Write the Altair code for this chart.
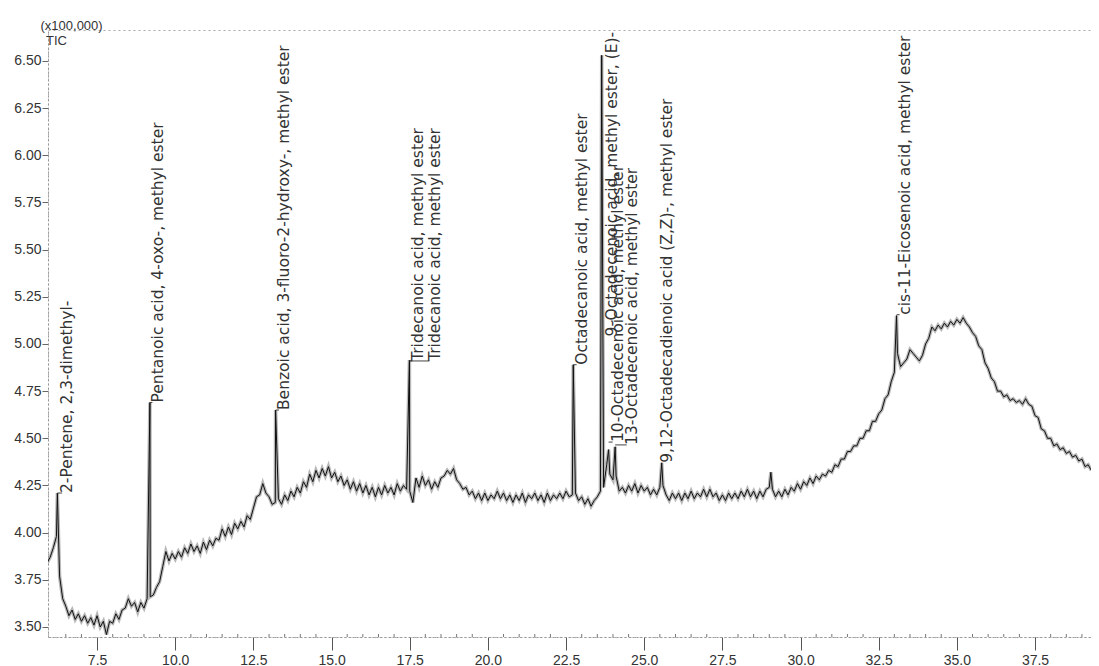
import altair as alt
import pandas as pd

# ---- TIC trace, every 0.1 min from 5.9 min (x100,000 counts)
trace_start = 5.9
trace_step = 0.1
tic_signal = [
    3.84,
    3.87, 3.92, 3.98, 3.77, 3.65, 3.61, 3.56, 3.59, 3.54, 3.57,   # 6.0
    3.53, 3.56, 3.52, 3.55, 3.51, 3.56, 3.50, 3.53, 3.46, 3.53,   # 7.0
    3.52, 3.57, 3.54, 3.59, 3.60, 3.65, 3.61, 3.63, 3.58, 3.63,   # 8.0
    3.60, 3.65, 3.66, 3.67, 3.71, 3.74, 3.82, 3.90, 3.85, 3.89,   # 9.0
    3.86, 3.90, 3.87, 3.92, 3.89, 3.94, 3.90, 3.93, 3.89, 3.95,   # 10.0
    3.91, 3.96, 3.93, 3.97, 3.96, 4.02, 3.98, 4.03, 3.99, 4.05,   # 11.0
    4.02, 4.06, 4.03, 4.09, 4.07, 4.13, 4.19, 4.20, 4.26, 4.21,   # 12.0
    4.19, 4.15, 4.16, 4.18, 4.15, 4.20, 4.17, 4.22, 4.19, 4.24,   # 13.0
    4.21, 4.27, 4.24, 4.31, 4.27, 4.33, 4.29, 4.34, 4.30, 4.35,   # 14.0
    4.29, 4.32, 4.27, 4.30, 4.25, 4.28, 4.23, 4.27, 4.22, 4.26,   # 15.0
    4.21, 4.25, 4.20, 4.24, 4.19, 4.24, 4.20, 4.25, 4.21, 4.24,   # 16.0
    4.20, 4.26, 4.22, 4.25, 4.23, 4.22, 4.16, 4.29, 4.24, 4.30,   # 17.0
    4.25, 4.28, 4.23, 4.27, 4.24, 4.29, 4.30, 4.33, 4.31, 4.34,   # 18.0
    4.28, 4.26, 4.23, 4.24, 4.20, 4.22, 4.18, 4.21, 4.17, 4.21,   # 19.0
    4.17, 4.20, 4.18, 4.22, 4.18, 4.21, 4.17, 4.20, 4.16, 4.20,   # 20.0
    4.17, 4.21, 4.16, 4.20, 4.18, 4.21, 4.17, 4.20, 4.16, 4.21,   # 21.0
    4.17, 4.20, 4.18, 4.21, 4.18, 4.22, 4.19, 4.20, 4.21, 4.17,   # 22.0
    4.19, 4.15, 4.18, 4.14, 4.17, 4.19, 4.22, 4.24, 4.36, 4.31,   # 23.0
    4.28, 4.30, 4.22, 4.24, 4.21, 4.25, 4.22, 4.26, 4.21, 4.25,   # 24.0
    4.22, 4.24, 4.20, 4.23, 4.20, 4.24, 4.25, 4.20, 4.17, 4.21,   # 25.0
    4.18, 4.21, 4.17, 4.21, 4.18, 4.22, 4.18, 4.21, 4.19, 4.23,   # 26.0
    4.19, 4.23, 4.19, 4.21, 4.17, 4.20, 4.17, 4.21, 4.18, 4.21,   # 27.0
    4.18, 4.22, 4.19, 4.23, 4.19, 4.22, 4.18, 4.22, 4.19, 4.23,   # 28.0
    4.24, 4.23, 4.19, 4.22, 4.19, 4.23, 4.20, 4.24, 4.22, 4.26,   # 29.0
    4.23, 4.27, 4.25, 4.29, 4.26, 4.30, 4.28, 4.31, 4.30, 4.33,   # 30.0
    4.32, 4.36, 4.35, 4.39, 4.39, 4.43, 4.43, 4.46, 4.46, 4.50,   # 31.0
    4.50, 4.54, 4.54, 4.59, 4.59, 4.63, 4.65, 4.71, 4.73, 4.80,   # 32.0
    4.85, 4.95, 4.88, 4.90, 4.92, 4.97, 4.95, 4.93, 4.91, 4.94,   # 33.0
    5.00, 5.03, 5.09, 5.07, 5.10, 5.08, 5.11, 5.09, 5.12, 5.10,   # 34.0
    5.13, 5.11, 5.14, 5.11, 5.09, 5.06, 5.04, 4.99, 4.97, 4.90,   # 35.0
    4.87, 4.82, 4.80, 4.75, 4.75, 4.72, 4.73, 4.70, 4.71, 4.69,   # 36.0
    4.70, 4.68, 4.71, 4.68, 4.67, 4.62, 4.61, 4.55, 4.54, 4.50,   # 37.0
    4.50, 4.46, 4.47, 4.44, 4.45, 4.42, 4.43, 4.40, 4.41, 4.38,   # 38.0
    4.39, 4.35, 4.36, 4.33,                                       # 39.0
]

# ---- peak apexes (retention time, min ; height x100,000)
peak_times = [6.23, 9.19, 13.21, 17.49, 22.73, 23.64, 23.86, 24.07, 25.56, 29.05, 33.07]
peak_heights = [4.21, 4.69, 4.65, 4.915, 4.89, 6.53, 4.44, 4.455, 4.37, 4.32, 5.15]

# ---- peak labels
label_texts = [
    "2-Pentene, 2,3-dimethyl-",
    "Pentanoic acid, 4-oxo-, methyl ester",
    "Benzoic acid, 3-fluoro-2-hydroxy-, methyl ester",
    "Tridecanoic acid, methyl ester",
    "Tridecanoic acid, methyl ester",
    "Octadecanoic acid, methyl ester",
    "9-Octadecenoic acid, methyl ester, (E)-",
    "10-Octadecenoic acid, methyl ester",
    "13-Octadecenoic acid, methyl ester",
    "9,12-Octadecadienoic acid (Z,Z)-, methyl ester",
    "cis-11-Eicosenoic acid, methyl ester",
]
label_peak_times = [6.23, 9.19, 13.21, 17.49, 17.49, 22.73, 23.64, 23.86, 24.07, 25.56, 33.07]
label_times = [6.55, 9.44, 13.49, 17.75, 18.30, 23.01, 23.97, 24.16, 24.61, 25.74, 33.34]
label_values = [4.21, 4.69, 4.65, 4.91, 4.91, 4.89, 5.04, 4.48, 4.465, 4.37, 5.155]
label_leader = [True, True, True, True, True, True, False, True, True, True, True]

x_ticks = [7.5, 10.0, 12.5, 15.0, 17.5, 20.0, 22.5, 25.0, 27.5, 30.0, 32.5, 35.0, 37.5]
x_minor_ticks = [6.5, 7.0, 8.0, 8.5, 9.0, 9.5, 10.5, 11.0, 11.5, 12.0, 13.0, 13.5, 14.0,
                 14.5, 15.5, 16.0, 16.5, 17.0, 18.0, 18.5, 19.0, 19.5, 20.5, 21.0, 21.5,
                 22.0, 23.0, 23.5, 24.0, 24.5, 25.5, 26.0, 26.5, 27.0, 28.0, 28.5, 29.0,
                 29.5, 30.5, 31.0, 31.5, 32.0, 33.0, 33.5, 34.0, 34.5, 35.5, 36.0, 36.5,
                 37.0, 38.0, 38.5, 39.0]
y_ticks = [3.50, 3.75, 4.00, 4.25, 4.50, 4.75, 5.00, 5.25, 5.50, 5.75, 6.00, 6.25, 6.50]

# ---- tables
trace_df = pd.DataFrame({
    "t": [round(trace_start + i * trace_step, 2) for i in range(len(tic_signal))],
    "v": tic_signal,
})
trace_df = pd.concat([trace_df, pd.DataFrame({"t": peak_times, "v": peak_heights})])
trace_df = trace_df.sort_values("t").reset_index(drop=True)

labels_df = pd.DataFrame({"t": label_times, "v": label_values, "label": label_texts})
leader_df = pd.DataFrame({
    "t": [p for p, k in zip(label_peak_times, label_leader) if k],
    "t2": [l - 0.17 for l, k in zip(label_times, label_leader) if k],
    "v": [v for v, k in zip(label_values, label_leader) if k],
})
minor_df = pd.DataFrame({"t": x_minor_ticks})

W, H = 1043, 607
x_scale = alt.Scale(domain=[5.93, 39.29], nice=False, zero=False)
y_scale = alt.Scale(domain=[3.447, 6.664], nice=False, zero=False)

x_axis = alt.Axis(values=x_ticks, format=".1f", title=None, grid=False,
                  labelFont="Liberation Sans", labelFontSize=14, labelColor="#333",
                  tickSize=13, tickColor="#555", labelPadding=3,
                  domainColor="#999", domainDash=[2, 2], labelFlush=False)
y_axis = alt.Axis(values=y_ticks, format=".2f", grid=False,
                  labelFont="Liberation Sans", labelFontSize=14, labelColor="#333",
                  tickSize=6, tickColor="#666", labelPadding=1,
                  domainColor="#999", domainDash=[2, 2], labelFlush=False,
                  title="(x100,000)", titleAngle=0, titleAlign="left",
                  titleBaseline="alphabetic", titleX=-8, titleY=-1,
                  titleFont="Liberation Sans", titleFontSize=13,
                  titleFontWeight="normal", titleColor="#333")

X = alt.X("t:Q", scale=x_scale, axis=x_axis)
Y = alt.Y("v:Q", scale=y_scale, axis=y_axis)

under = alt.Chart(trace_df).mark_line(color="#888", strokeWidth=3.5, opacity=0.6, clip=True).encode(x=X, y=Y)
trace = alt.Chart(trace_df).mark_line(color="#111", strokeWidth=1, clip=True).encode(x=X, y=Y)

labels = alt.Chart(labels_df).mark_text(
    angle=270, align="left", baseline="middle", font="DejaVu Sans",
    fontSize=15.5, color="#333"
).encode(x=X, y=Y, text="label:N")

leaders = alt.Chart(leader_df).mark_rule(color="#444", strokeWidth=1).encode(
    x=X, x2="t2:Q", y=Y)

minor = alt.Chart(minor_df).mark_rule(color="#777", strokeWidth=1).encode(
    x=X, y=alt.value(H - 3), y2=alt.value(H))

tic = alt.Chart(pd.DataFrame({"t": [0]})).mark_text(
    align="left", baseline="middle", font="Liberation Sans", fontSize=13, color="#333"
).encode(x=alt.value(-2), y=alt.value(11), text=alt.value("TIC"))

chart = alt.layer(under, trace, minor, leaders, labels, tic).properties(
    width=W, height=H,
    autosize=alt.AutoSizeParams(type="none"),
    padding={"left": 40, "top": 22, "right": 0, "bottom": 34},
).configure_view(stroke="#aaa", strokeDash=[2, 3], strokeWidth=1)

chart.save("out.html", embed_options={"renderer": "svg", "actions": False})
